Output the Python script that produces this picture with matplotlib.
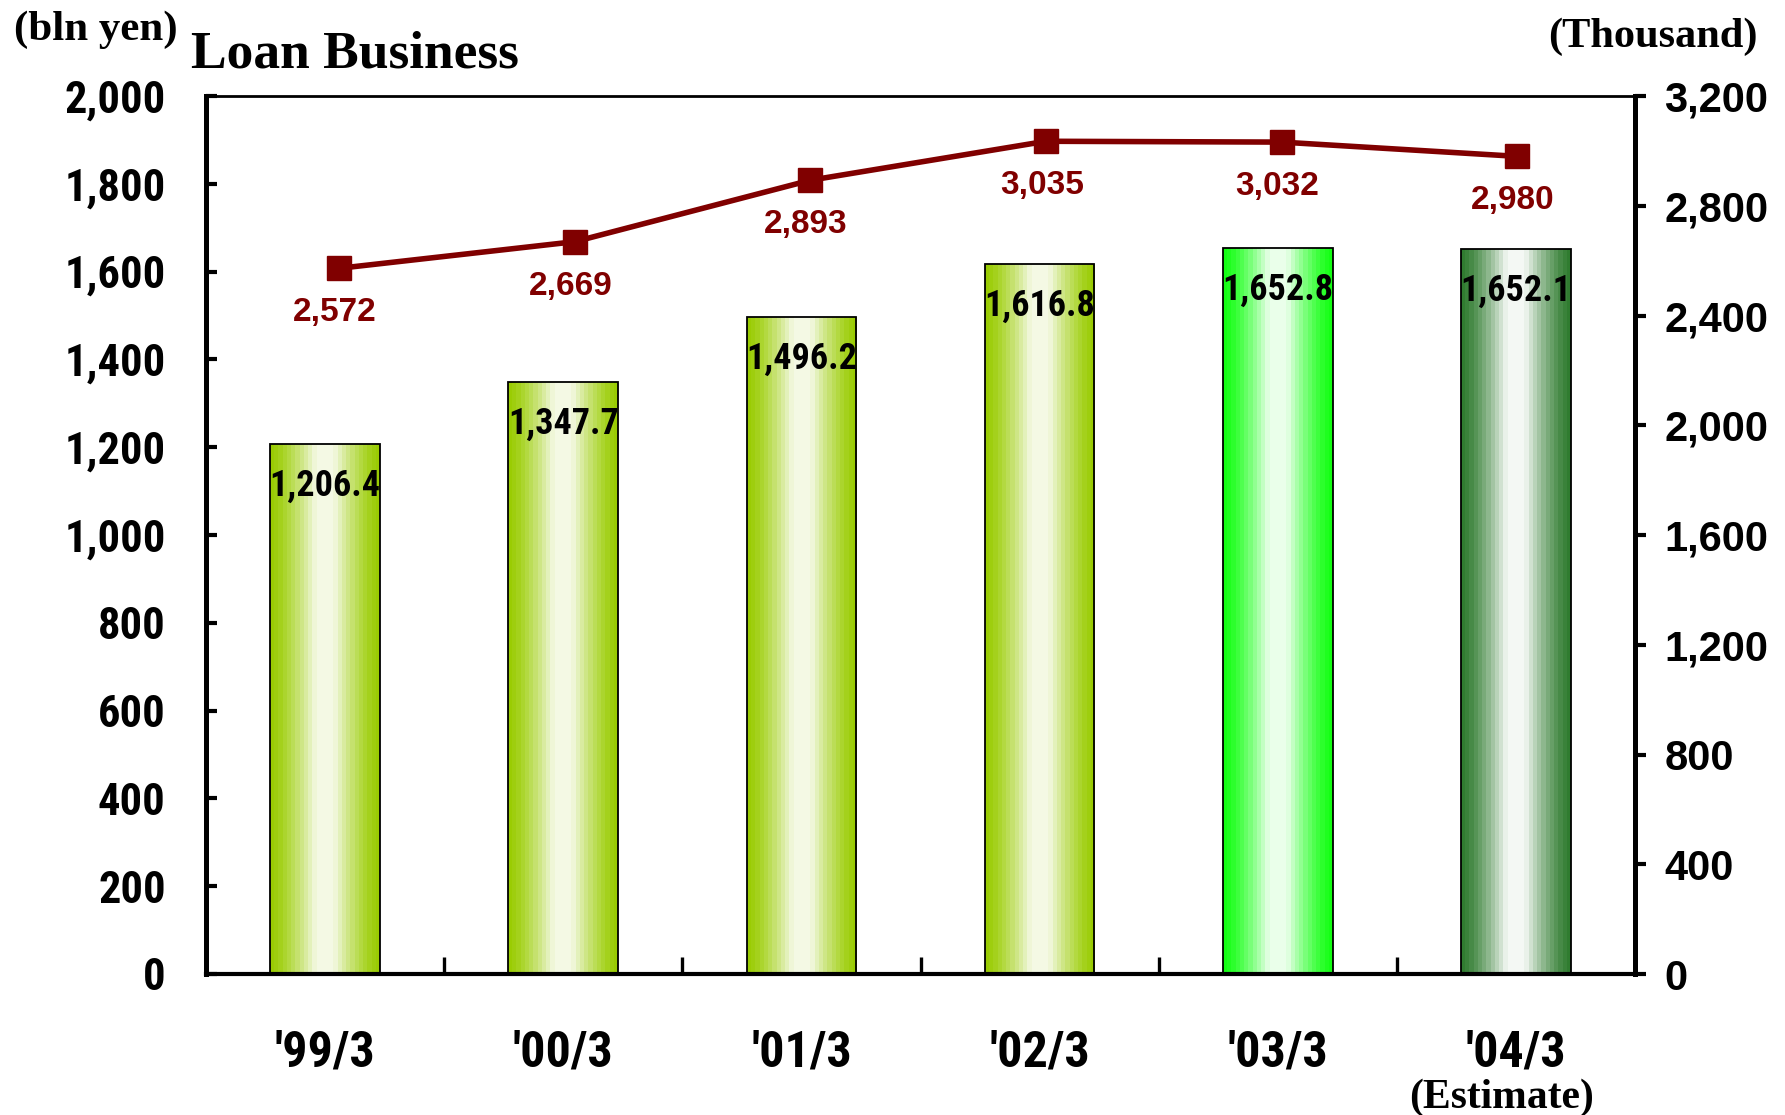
import numpy as np
import matplotlib
matplotlib.use("Agg")
import matplotlib.pyplot as plt
from matplotlib import font_manager
from matplotlib.colors import to_rgb
from matplotlib.ticker import FuncFormatter

# =========================
# Data
# =========================

categories = ["'99/3", "'00/3", "'01/3", "'02/3", "'03/3", "'04/3"]
loan_balance = [1206.4, 1347.7, 1496.2, 1616.8, 1652.8, 1652.1]     # bln yen (bars)
accounts = [2572, 2669, 2893, 3035, 3032, 2980]                     # thousand (line)

bar_edge_colors = ["#99CC00", "#99CC00", "#99CC00", "#99CC00", "#11FF11", "#2E7B2E"]
bar_light_colors = ["#F4F9E4", "#F4F9E4", "#F4F9E4", "#F4F9E4", "#EAFFEA", "#F4F8F4"]

left_ticks = np.arange(0, 2001, 200)
right_ticks = np.arange(0, 3201, 400)

# =========================
# Fonts (look for a narrow sans, else fall back)
# =========================

ttf = font_manager.fontManager.ttflist
installed = {f.name for f in ttf}
narrow_family, narrow_stretch = "Liberation Sans", "normal"
for name in ["Liberation Sans Narrow", "Arial Narrow", "Roboto Condensed",
             "Open Sans Condensed", "DejaVu Sans Condensed", "Noto Sans Condensed"]:
    if name in installed:
        narrow_family = name
        break
else:
    for name in ["DejaVu Sans", "Noto Sans", "Roboto", "Open Sans"]:
        if any(f.name == name and f.stretch in ("condensed", "semi-condensed", 75, 87)
               for f in ttf):
            narrow_family, narrow_stretch = name, "condensed"
            break

sans = "Liberation Sans" if "Liberation Sans" in installed else "DejaVu Sans"
serif = "Liberation Serif" if "Liberation Serif" in installed else "DejaVu Serif"
narrow_font = dict(family=narrow_family, stretch=narrow_stretch, weight="bold")

line_color = "#800000"

fig = plt.figure(figsize=(17.85, 11.15), dpi=100)
pos = [206 / 1785, 1 - 974 / 1115, (1635 - 206) / 1785, (974 - 96) / 1115]
ax = fig.add_axes(pos)

x = np.arange(len(categories))
bar_w = 0.46

bars = ax.bar(x, loan_balance, width=bar_w, facecolor="none",
              edgecolor="black", linewidth=1.3, zorder=3)

# horizontal banded gradient inside each bar
n_cols = 26
t = (np.arange(n_cols) + 0.5) / n_cols
w = np.clip((0.5 - np.abs(t - 0.5)) / 0.42, 0, 1)
w = w ** 1.4

for rect, c_edge, c_light in zip(bars, bar_edge_colors, bar_light_colors):
    e = np.array(to_rgb(c_edge))
    l = np.array(to_rgb(c_light))
    grad = e[None, :] + (l - e)[None, :] * w[:, None]
    img = ax.imshow(grad[None, :, :], aspect="auto", interpolation="nearest",
                    extent=[rect.get_x(), rect.get_x() + rect.get_width(), 0, rect.get_height()],
                    zorder=2)
    img.set_clip_path(rect)

for xi, v in zip(x, loan_balance):
    ax.annotate(f"{v:,.1f}", (xi, v), xytext=(0, -30), textcoords="offset points",
                ha="center", va="center", fontsize=26, color="black", zorder=5,
                **narrow_font)

ax.set_xlim(-0.5, len(categories) - 0.5)
ax.set_ylim(0, 2000)

ax.set_xticks(x)
ax.set_xticklabels(categories, fontsize=36, **narrow_font)
ax.tick_params(axis="x", which="major", length=0, pad=40)
ax.set_xticks(np.arange(0.5, len(categories) - 0.5, 1), minor=True)
ax.tick_params(axis="x", which="minor", direction="in", length=12, width=2.4)

ax.set_yticks(left_ticks)
ax.yaxis.set_major_formatter(FuncFormatter(lambda v, p: f"{v:,.0f}"))
ax.tick_params(axis="y", direction="in", length=8, width=3, pad=29)
for lab in ax.get_yticklabels():
    lab.set_fontsize(32)
    lab.set_fontweight("bold")
    lab.set_family(narrow_family)
    lab.set_stretch(narrow_stretch)

ax.spines["left"].set_linewidth(3.6)
ax.spines["bottom"].set_linewidth(3.0)
ax.spines["top"].set_linewidth(2.0)
ax.spines["right"].set_visible(False)

# =========================
# Line on right axis
# =========================

ax2 = fig.add_axes(pos)
ax2.patch.set_visible(False)
ax2.set_xlim(-0.565, 5.5)
ax2.set_ylim(0, 3200)
ax2.xaxis.set_visible(False)
ax2.yaxis.tick_right()
for s in ["left", "top", "bottom"]:
    ax2.spines[s].set_visible(False)
ax2.spines["right"].set_linewidth(3.6)
ax2.set_yticks(right_ticks)
ax2.yaxis.set_major_formatter(FuncFormatter(lambda v, p: f"{v:,.0f}"))
ax2.tick_params(axis="y", direction="out", length=8, width=3, pad=13)
for lab in ax2.get_yticklabels():
    lab.set_fontsize(30)
    lab.set_fontweight("bold")
    lab.set_family(sans)

ax2.plot(x, accounts, color=line_color, linewidth=4, marker="s",
         markersize=17, markerfacecolor=line_color, markeredgecolor=line_color, zorder=6)
for xi, v in zip(x, accounts):
    ax2.annotate(f"{v:,}", (xi, v), xytext=(-3, -32), textcoords="offset points",
                 ha="center", va="center", fontsize=24, fontweight="bold",
                 family=sans, color=line_color)

# =========================
# Titles and unit labels
# =========================

fig.text(14 / 1785, 1 - 40 / 1115, "(bln yen)", fontsize=31, fontweight="bold",
         family=serif, ha="left", va="baseline")
fig.text(191 / 1785, 1 - 68 / 1115, "Loan Business", fontsize=38.5, fontweight="bold",
         family=serif, ha="left", va="baseline")
fig.text(1758 / 1785, 1 - 47 / 1115, "(Thousand)", fontsize=30.5, fontweight="bold",
         family=serif, ha="right", va="baseline")
fig.text(1502 / 1785, 1 - 1108 / 1115, "(Estimate)", fontsize=30, fontweight="bold",
         family=serif, ha="center", va="baseline")

fig.savefig("out.png", dpi=100)
